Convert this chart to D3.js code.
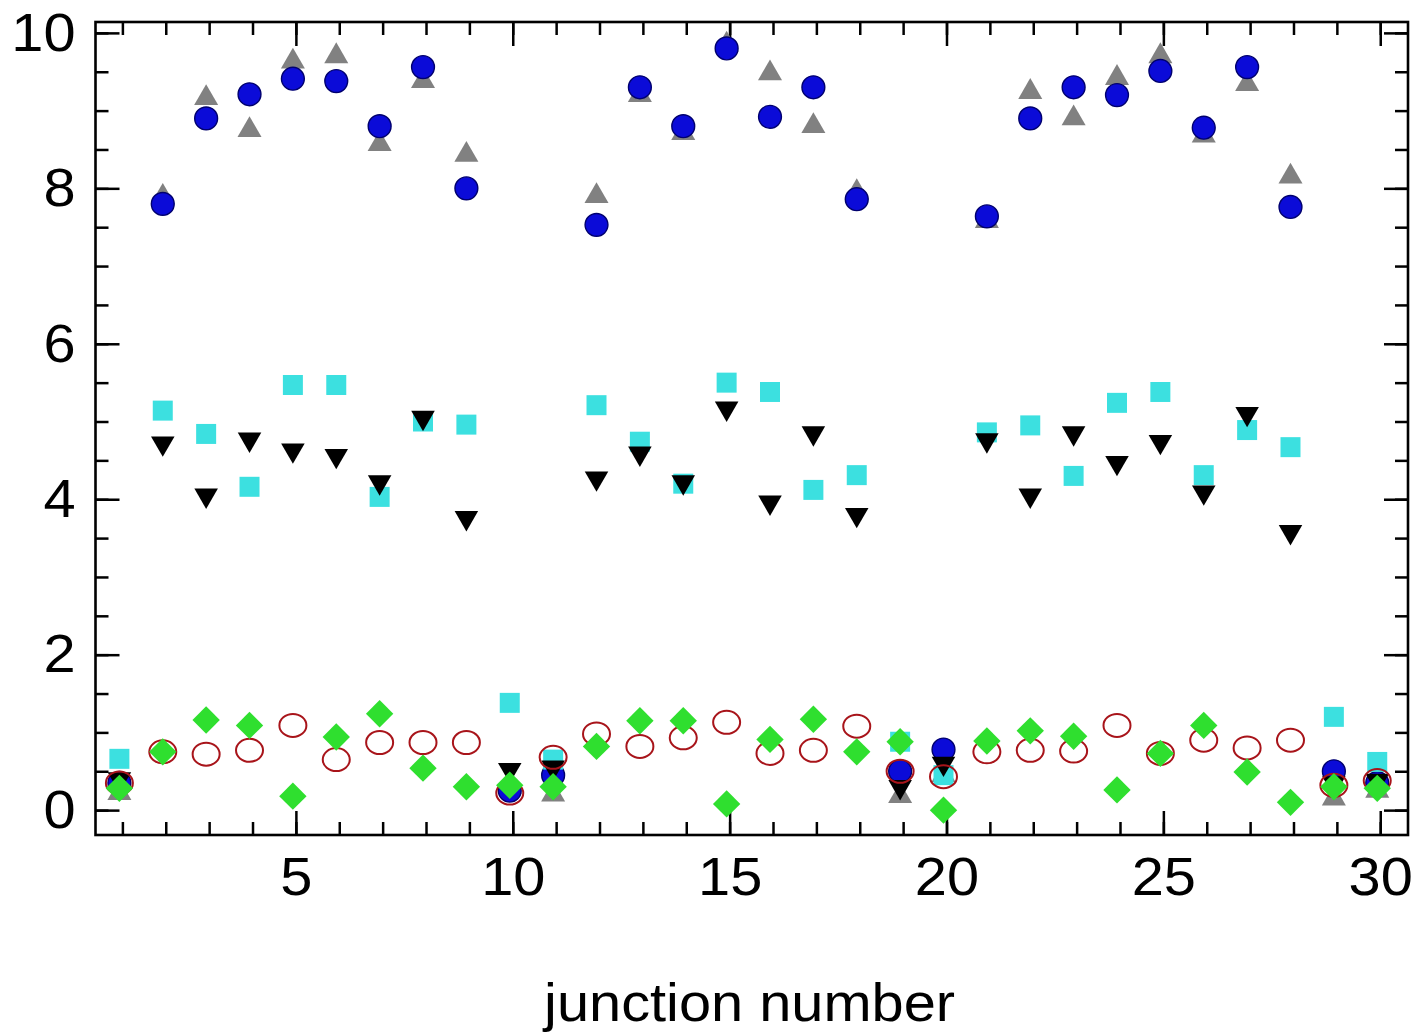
<!DOCTYPE html>
<html>
<head>
<meta charset="utf-8">
<script src="https://cdn.jsdelivr.net/npm/d3@7"></script>
<style>
  html, body { margin: 0; padding: 0; background: #ffffff; }
  svg { display: block; }
  text { font-family: "Liberation Sans", Arial, sans-serif; fill: #000; }
</style>
</head>
<body>
<svg id="chart" width="1416" height="1036"></svg>
<script>
// Junction numbers along the x axis
const junctions = [1,2,3,4,5,6,7,8,9,10,11,12,13,14,15,16,17,18,19,20,21,22,23,24,25,26,27,28,29,30];

// Measured quantities per junction, one array per marker set
const blueCircles   = [0.35,7.80,8.90,9.21,9.41,9.38,8.80,9.56,8.00,0.25,0.45,7.53,9.30,8.80,9.80,8.92,9.30,7.86,0.50,0.78,7.64,8.90,9.30,9.20,9.51,8.78,9.56,7.76,0.50,0.35];
const grayTriangles = [0.22,7.89,9.16,8.75,9.63,9.70,8.57,9.38,8.43,0.30,0.20,7.90,9.20,8.71,9.85,9.48,8.80,7.95,0.18,0.45,7.58,9.24,8.90,9.42,9.70,8.68,9.34,8.15,0.15,0.25];
const cyanSquares   = [0.66,5.14,4.84,4.16,5.47,5.47,4.03,5.00,4.96,1.38,0.65,5.21,4.74,4.20,5.50,5.38,4.12,4.31,0.88,0.45,4.86,4.95,4.30,5.24,5.38,4.31,4.89,4.67,1.20,0.62];
const blackDownTris = [0.40,4.72,4.05,4.77,4.63,4.56,4.22,5.05,3.76,0.52,0.55,4.27,4.59,4.22,5.17,3.96,4.85,3.80,0.30,0.60,4.76,4.05,4.85,4.47,4.74,4.09,5.10,3.58,0.35,0.38];
const greenDiamonds = [0.28,0.75,1.16,1.09,0.18,0.94,1.24,0.54,0.30,0.32,0.30,0.82,1.15,1.15,0.08,0.91,1.17,0.75,0.88,0.00,0.89,1.02,0.95,0.26,0.73,1.09,0.49,0.10,0.30,0.28];
const redRings      = [0.35,0.75,0.72,0.77,1.09,0.65,0.87,0.87,0.87,0.22,0.68,0.98,0.82,0.93,1.13,0.73,0.77,1.08,0.50,0.43,0.75,0.77,0.76,1.09,0.73,0.90,0.80,0.90,0.32,0.38];

// Axis ticks
const xMajorTicks = [5,10,15,20,25,30];
const xMinorTicks = junctions;
const yMajorTicks = [0,2,4,6,8,10];
const yMinorTicks = [0,0.5,1,1.5,2,2.5,3,3.5,4,4.5,5,5.5,6,6.5,7,7.5,8,8.5,9,9.5,10];
const xTitle = "junction number";

const svg = d3.select("#chart");
const plotLeft = 95.5, plotRight = 1408, plotTop = 22, plotBottom = 835;

const x = d3.scaleLinear().domain([0.38, 30.64]).range([plotLeft, plotRight]);
const y = d3.scaleLinear().domain([-0.32, 10.14]).range([plotBottom, plotTop]);

const fontSize = 54;
const stretch = 1.07;

// ---------- axes: inward ticks on all four sides ----------
function styleAxis(g) {
  g.select(".domain").remove();
  g.selectAll(".tick line").attr("stroke", "#000").attr("stroke-width", 2.5);
}

const majorLen = 24, minorLen = 13;

svg.append("g").attr("transform", `translate(0,${plotBottom})`)
  .call(d3.axisBottom(x).tickValues(xMinorTicks).tickSize(-minorLen).tickFormat(""))
  .call(styleAxis);
svg.append("g").attr("transform", `translate(0,${plotTop})`)
  .call(d3.axisTop(x).tickValues(xMinorTicks).tickSize(-minorLen).tickFormat(""))
  .call(styleAxis);
svg.append("g").attr("transform", `translate(0,${plotTop})`)
  .call(d3.axisTop(x).tickValues(xMajorTicks).tickSize(-majorLen).tickFormat(""))
  .call(styleAxis);
const xAxisG = svg.append("g").attr("transform", `translate(0,${plotBottom})`)
  .call(d3.axisBottom(x).tickValues(xMajorTicks).tickSize(-majorLen).tickPadding(22).tickFormat(d3.format("d")))
  .call(styleAxis);

svg.append("g").attr("transform", `translate(${plotLeft},0)`)
  .call(d3.axisLeft(y).tickValues(yMinorTicks).tickSize(-minorLen).tickFormat(""))
  .call(styleAxis);
svg.append("g").attr("transform", `translate(${plotRight},0)`)
  .call(d3.axisRight(y).tickValues(yMinorTicks).tickSize(-minorLen).tickFormat(""))
  .call(styleAxis);
svg.append("g").attr("transform", `translate(${plotRight},0)`)
  .call(d3.axisRight(y).tickValues(yMajorTicks).tickSize(-majorLen).tickFormat(""))
  .call(styleAxis);
const yAxisG = svg.append("g").attr("transform", `translate(${plotLeft},0)`)
  .call(d3.axisLeft(y).tickValues(yMajorTicks).tickSize(-majorLen).tickPadding(20).tickFormat(d3.format("d")))
  .call(styleAxis);

[xAxisG, yAxisG].forEach(g => {
  g.selectAll(".tick text")
    .attr("font-size", fontSize)
    .attr("font-family", "Liberation Sans, Arial, sans-serif")
    .attr("fill", "#000");
});
// slightly wide lettering
xAxisG.selectAll(".tick text").attr("transform", `scale(${stretch},1)`);
yAxisG.selectAll(".tick text").each(function() {
  const t = d3.select(this);
  const tx = +t.attr("x");
  t.attr("x", tx / stretch).attr("transform", `scale(${stretch},1)`);
});

// frame
svg.append("rect")
  .attr("x", plotLeft).attr("y", plotTop)
  .attr("width", plotRight - plotLeft).attr("height", plotBottom - plotTop)
  .attr("fill", "none").attr("stroke", "#000").attr("stroke-width", 2.6);

// ---------- markers (symbols sit a few pixels left of their tick) ----------
const plot = svg.append("g").attr("transform", "translate(-3,0)");

function symbolLayer(values, type, size, fill, stroke, rotate) {
  const gen = d3.symbol().type(type).size(size);
  plot.append("g").selectAll("path")
    .data(values)
    .join("path")
    .attr("d", gen())
    .attr("transform", (d, i) => `translate(${x(junctions[i])},${y(d)}) rotate(${rotate})`)
    .attr("fill", fill)
    .attr("stroke", stroke || "none")
    .attr("stroke-width", stroke ? 1.4 : 0);
}

symbolLayer(grayTriangles, d3.symbolTriangle, 250, "#818181", null, 0);
symbolLayer(blueCircles, d3.symbolCircle, 410, "#0b0bd8", "#00006e", 0);
symbolLayer(cyanSquares, d3.symbolSquare, 400, "#3ce0e0", null, 0);
symbolLayer(blackDownTris, d3.symbolTriangle, 240, "#000000", null, 180);

plot.append("g").selectAll("ellipse")
  .data(redRings)
  .join("ellipse")
  .attr("cx", (d, i) => x(junctions[i]))
  .attr("cy", d => y(d))
  .attr("rx", 13.5).attr("ry", 11.5)
  .attr("fill", "none")
  .attr("stroke", "#a8141a")
  .attr("stroke-width", 2);

symbolLayer(greenDiamonds, d3.symbolSquare, 375, "#2fdf2f", null, 45);

// ---------- axis title ----------
svg.append("text")
  .attr("x", (plotLeft + plotRight) / 2 / stretch - 2)
  .attr("y", 1021)
  .attr("transform", `scale(${stretch},1)`)
  .attr("text-anchor", "middle")
  .attr("font-size", fontSize)
  .text(xTitle);
</script>
</body>
</html>
